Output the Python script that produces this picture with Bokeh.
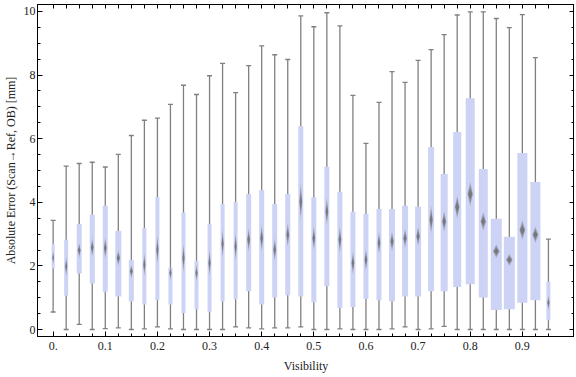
from bokeh.plotting import figure
from bokeh.models import (Range1d, LinearAxis, FixedTicker, SingleIntervalTicker,
                          CustomJSTickFormatter, ColumnDataSource)
from bokeh.embed import file_html
from bokeh.resources import INLINE

# ---- data ----
visibility = [0.0, 0.025, 0.05, 0.075, 0.1, 0.125, 0.15, 0.175, 0.2, 0.225,
              0.25, 0.275, 0.3, 0.325, 0.35, 0.375, 0.4, 0.425, 0.45, 0.475,
              0.5, 0.525, 0.55, 0.575, 0.6, 0.625, 0.65, 0.675, 0.7, 0.725,
              0.75, 0.775, 0.8, 0.825, 0.85, 0.875, 0.9, 0.925, 0.95]
whisker_low = [0.55, 0.0, 0.16, 0.0, 0.03, 0.05, 0.0, 0.02, 0.08, 0.02,
               0.0, 0.0, 0.0, 0.0, 0.08, 0.05, 0.02, 0.05, 0.05, 0.08,
               0.0, 0.0, 0.02, 0.0, 0.0, 0.0, 0.02, 0.08, 0.0, 0.02,
               0.10, 0.0, 0.0, 0.0, 0.0, 0.0, 0.0, 0.0, 0.0]
quartile1 = [1.92, 1.06, 1.76, 1.45, 1.19, 1.04, 0.88, 0.79, 0.92, 0.79,
             0.52, 0.64, 0.54, 0.88, 0.95, 1.20, 0.79, 1.01, 1.08, 1.04,
             0.86, 1.36, 0.68, 0.71, 0.96, 0.92, 0.89, 1.04, 1.04, 1.20,
             1.20, 1.34, 1.42, 1.01, 0.61, 0.64, 0.84, 0.92, 0.29]
median = [2.26, 1.98, 2.49, 2.58, 2.56, 2.25, 1.83, 2.04, 2.51, 1.78,
          2.25, 1.78, 2.09, 2.70, 2.61, 2.82, 2.87, 2.51, 2.98, 4.02,
          2.87, 3.71, 2.82, 2.09, 2.19, 2.72, 2.77, 2.87, 2.93, 3.45,
          3.40, 3.85, 4.26, 3.40, 2.46, 2.19, 3.13, 2.98, 0.84]
quartile3 = [2.70, 2.82, 3.32, 3.61, 3.89, 3.10, 2.19, 3.19, 4.17, 1.95,
             3.68, 2.16, 3.32, 3.95, 4.01, 4.26, 4.39, 3.95, 4.26, 6.39,
             4.16, 5.12, 4.33, 3.70, 3.64, 3.79, 3.79, 3.89, 3.86, 5.74,
             4.89, 6.21, 7.27, 5.05, 3.48, 2.92, 5.55, 4.64, 1.50]
whisker_high = [3.43, 5.14, 5.22, 5.26, 5.11, 5.51, 6.10, 6.58, 6.65, 7.08,
                7.68, 7.39, 7.98, 8.37, 7.45, 8.30, 8.92, 8.64, 8.49, 9.86,
                9.52, 9.96, 9.55, 7.36, 5.85, 7.14, 8.11, 7.77, 8.46, 8.80,
                9.27, 9.89, 9.99, 9.99, 9.78, 9.49, 9.90, 8.55, 2.84]
# relative box weight (box width grows with sample size)
box_weight = [3, 4, 5, 5, 5, 6, 5, 4, 4, 4,
              4, 4, 4, 4, 4, 5, 5, 5, 5, 5,
              5, 5, 5, 5, 5, 5, 6, 6, 6, 6,
              7, 8, 9, 9, 11, 11, 10, 10, 4]
x_major = [0.0, 0.1, 0.2, 0.3, 0.4, 0.5, 0.6, 0.7, 0.8, 0.9]

FONT = "Liberation Serif"
GRAY = "#808080"
BOX = "#cdd3f5"

box_w = [w / 520.0 for w in box_weight]

src = ColumnDataSource(dict(x=visibility, lo=whisker_low, q1=quartile1, med=median,
                            q3=quartile3, hi=whisker_high, w=box_w))

p = figure(width=574, height=375, x_range=Range1d(-0.03, 1.0), y_range=Range1d(-0.22, 10.22),
           output_backend="svg", toolbar_location=None,
           min_border_left=0, min_border_right=0, min_border_top=4, min_border_bottom=38)
p.xgrid.visible = False
p.ygrid.visible = False
p.outline_line_color = "black"
p.background_fill_color = "white"
p.border_fill_color = "white"

# whiskers + caps
p.segment(x0="x", y0="lo", x1="x", y1="hi", source=src, line_color=GRAY, line_width=1.3)
p.scatter(x="x", y="lo", source=src, marker="dash", size=5, line_color=GRAY, line_width=1.3)
p.scatter(x="x", y="hi", source=src, marker="dash", size=5, line_color=GRAY, line_width=1.3)

# boxes
p.vbar(x="x", width="w", bottom="q1", top="q3", source=src, fill_color=BOX, line_color=None)

# median diamonds (soft, layered)
for scale, alpha in [(1.0, 0.3), (0.75, 0.4), (0.45, 0.6)]:
    xs, ys = [], []
    for xi, q1v, m, q3v, wv, wp in zip(visibility, quartile1, median, quartile3, box_w, box_weight):
        hh = (0.1 + 0.45 * (q3v - q1v) / wp) * scale
        hw = 0.3 * wv * (0.5 + 0.5 * scale)
        xs.append([xi - hw, xi, xi + hw, xi])
        ys.append([m, m + hh, m, m - hh])
    p.patches(xs, ys, fill_color="#666666", fill_alpha=alpha, line_color=None)

blank = CustomJSTickFormatter(code="return '';")

def style_axis(ax):
    ax.axis_line_color = "black"
    ax.major_tick_line_color = "black"
    ax.minor_tick_line_color = "black"
    ax.major_tick_out = 0
    ax.minor_tick_out = 0
    ax.major_label_text_font = FONT
    ax.major_label_text_font_size = "12px"
    ax.major_label_text_color = "#222222"
    ax.axis_label_text_font = FONT
    ax.axis_label_text_font_size = "12px"
    ax.axis_label_text_font_style = "normal"
    ax.axis_label_text_color = "#222222"

yl = p.yaxis[0]
yl.ticker = SingleIntervalTicker(interval=2, num_minor_ticks=4)
style_axis(yl)
yl.major_tick_in = 5
yl.minor_tick_in = 3
yl.major_label_standoff = 2
yl.axis_label = "Absolute Error (Scan\u2192Ref, OB) [mm]"
yl.axis_label_standoff = 3

xb = p.xaxis[0]
xb.ticker = FixedTicker(ticks=x_major, minor_ticks=visibility)
xb.formatter = CustomJSTickFormatter(code="return tick === 0 ? '0.' : tick.toFixed(1);")
style_axis(xb)
xb.major_tick_in = 5
xb.minor_tick_in = 3
xb.major_label_standoff = 5
xb.axis_label = "Visibility"
xb.axis_label_standoff = 6

yr = LinearAxis(ticker=SingleIntervalTicker(interval=2, num_minor_ticks=4), formatter=blank)
style_axis(yr)
yr.major_tick_in = 5
yr.minor_tick_in = 3
yr.major_label_standoff = 0
p.add_layout(yr, "right")

xt = LinearAxis(ticker=FixedTicker(ticks=visibility), formatter=blank)
style_axis(xt)
xt.major_tick_in = 4
xt.minor_tick_in = 0
xt.major_label_standoff = 0
p.add_layout(xt, "above")

open("out.html", "w").write(file_html(p, INLINE))
